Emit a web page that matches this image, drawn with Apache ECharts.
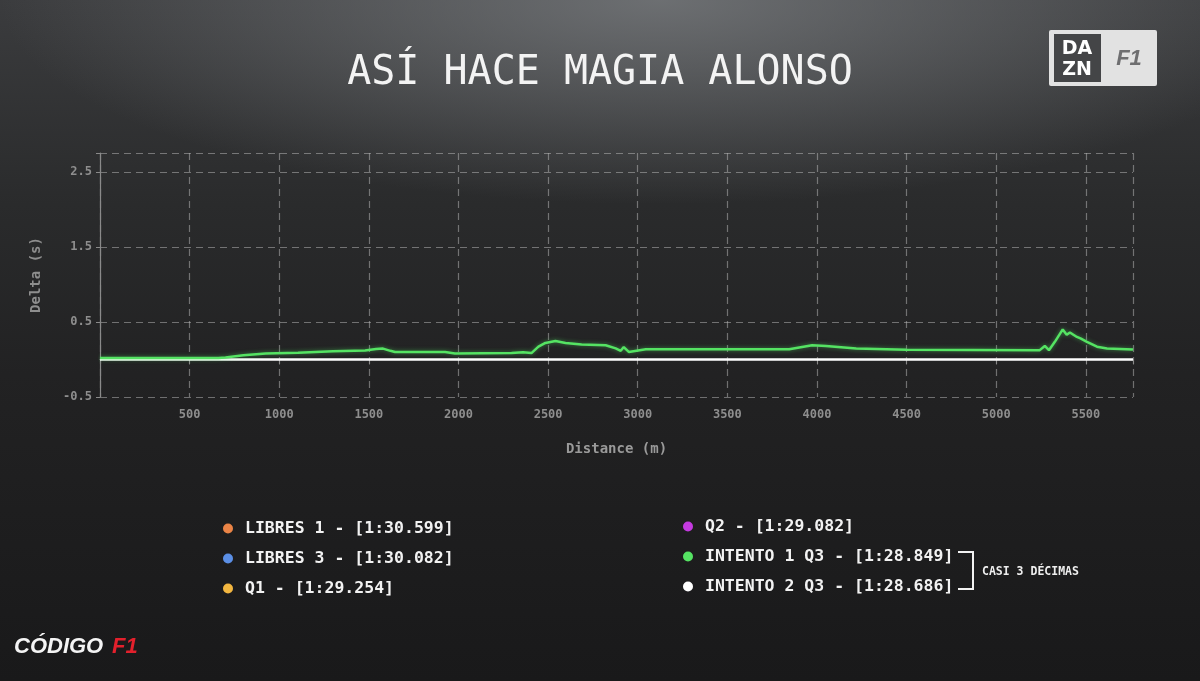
<!DOCTYPE html>
<html>
<head>
<meta charset="utf-8">
<script src="https://cdn.jsdelivr.net/npm/echarts@6/dist/echarts.min.js"></script>
<style>
html,body{margin:0;padding:0;width:1200px;height:681px;overflow:hidden;}
body{background:
 radial-gradient(ellipse 55% 30% at 55% 0%, rgba(125,128,131,0.75), rgba(125,128,131,0) 100%),
 linear-gradient(180deg,#3b3c3e 0%,#2a2b2c 30%,#222223 55%,#19191a 100%);}
#chart{width:1200px;height:681px;}
</style>
</head>
<body>
<div id="chart"></div>
<script>
// ---- data ----
const seriesNames = ['LIBRES 1', 'LIBRES 3', 'Q1', 'Q2', 'INTENTO 1 Q3', 'INTENTO 2 Q3'];
const lapTimes = ['1:30.599', '1:30.082', '1:29.254', '1:29.082', '1:28.849', '1:28.686'];
const seriesColors = ['#ea8446', '#5b8fe6', '#f2b640', '#c43ae0', '#55e363', '#ffffff'];
// distance (m), delta (s)
const libres1 = [];
const libres3 = [];
const q1 = [];
const q2 = [];
const intento1 = [[0,0.02],[300,0.02],[660,0.02],[700,0.025],[800,0.055],[925,0.08],[1105,0.09],[1300,0.11],[1479,0.12],[1540,0.14],[1579,0.145],[1620,0.115],[1646,0.1],[1925,0.1],[1980,0.08],[2296,0.085],[2360,0.095],[2407,0.085],[2446,0.17],[2485,0.22],[2541,0.245],[2597,0.22],[2687,0.2],[2821,0.19],[2877,0.147],[2905,0.115],[2922,0.165],[2950,0.1],[3045,0.137],[3621,0.137],[3845,0.135],[3973,0.19],[4050,0.18],[4219,0.147],[4499,0.13],[5243,0.124],[5271,0.18],[5294,0.124],[5327,0.235],[5371,0.4],[5393,0.33],[5411,0.36],[5450,0.3],[5470,0.28],[5506,0.235],[5562,0.17],[5618,0.147],[5763,0.133]];
const intento2 = [[0,0],[1000,0],[2000,0],[3000,0],[4000,0],[5000,0],[5763,0]];
const xMax = 5763;
const yMin = -0.5, yMax = 2.75, yInterval = 1;
const xInterval = 500;
const titleText = 'ASÍ HACE MAGIA ALONSO';
const xName = 'Distance (m)';
const yName = 'Delta (s)';
const noteText = 'CASI 3 DÉCIMAS';

const allData = [libres1, libres3, q1, q2, intento1, intento2];
const mono = '"DejaVu Sans Mono", "Liberation Mono", monospace';
const legendFmt = name => name + ' - [' + lapTimes[seriesNames.indexOf(name)] + ']';

const chart = echarts.init(document.getElementById('chart'), null, {renderer: 'canvas'});
const legendCommon = {
  orient: 'vertical', icon: 'circle', itemWidth: 10, itemHeight: 10, itemGap: 13,
  selectedMode: false, formatter: legendFmt,
  textStyle: {color: '#f2f2f2', fontFamily: mono, fontWeight: 'bold', fontSize: 16.5, padding: [0,0,0,7]}
};
chart.setOption({
  backgroundColor: 'transparent',
  animation: false,
  title: {text: titleText, left: 'center', top: 49,
    textStyle: {color: '#f3f3f3', fontFamily: mono, fontWeight: 'normal', fontSize: 40}},
  grid: {left: 100, right: 67, top: 153, bottom: 284},
  legend: [
    Object.assign({left: 218, top: 515, data: seriesNames.slice(0,3)}, legendCommon),
    Object.assign({left: 678, top: 513, data: seriesNames.slice(3)}, legendCommon)
  ],
  xAxis: {
    type: 'value', min: 0, max: xMax, interval: xInterval,
    name: xName, nameLocation: 'middle', nameGap: 45,
    nameTextStyle: {color: '#9a9a9a', fontFamily: mono, fontSize: 14, fontWeight: 'bold'},
    axisLine: {lineStyle: {color: '#8a8a8a', width: 1.2}},
    axisTick: {show: true, length: 5, lineStyle: {color: '#8a8a8a'}},
    axisLabel: {color: '#8e8e8e', fontFamily: mono, fontSize: 12, fontWeight: 'bold', margin: 12,
      formatter: v => (v === 0 || v === xMax) ? '' : String(v)},
    splitLine: {show: true, lineStyle: {color: 'rgba(190,190,190,0.5)', type: [7,5], width: 1.2}}
  },
  yAxis: {
    type: 'value', min: yMin, max: yMax, interval: yInterval,
    name: yName, nameLocation: 'middle', nameGap: 57, nameRotate: 90,
    nameTextStyle: {color: '#8e8e8e', fontFamily: mono, fontSize: 14, fontWeight: 'bold'},
    axisLine: {show: true, lineStyle: {color: '#8a8a8a', width: 1.2}},
    axisTick: {show: true, length: 4, lineStyle: {color: '#8a8a8a'}},
    axisLabel: {color: '#8e8e8e', fontFamily: mono, fontSize: 12, fontWeight: 'bold', margin: 8,
      formatter: v => (v === yMax) ? '' : v.toFixed(1)},
    splitLine: {show: true, lineStyle: {color: 'rgba(190,190,190,0.5)', type: [7,5], width: 1.2}}
  },
  series: seriesNames.map((n, i) => ({
    name: n, type: 'line', data: allData[i], showSymbol: false, smooth: false,
    color: seriesColors[i], z: i === 4 ? 4 : 3,
    lineStyle: {color: seriesColors[i], width: 2.5,
      shadowBlur: i === 4 ? 4 : 0, shadowColor: 'rgba(80,230,100,0.5)'}
  })),
  graphic: [
    {type: 'polyline', shape: {points: [[958,552],[973,552],[973,589],[958,589]]},
     style: {stroke: '#f2f2f2', lineWidth: 2, fill: null}},
    {type: 'text', left: 982, top: 566,
     style: {text: noteText, fill: '#eeeeee', font: 'bold 11.5px ' + mono}},
    // DAZN / F1 badge
    {type: 'rect', shape: {x: 1049, y: 30, width: 108, height: 56, r: 2}, style: {fill: '#e2e2e2'}},
    {type: 'rect', shape: {x: 1054, y: 34, width: 47, height: 48}, style: {fill: '#444547'}},
    {type: 'text', x: 1077, y: 49, style: {text: 'DA', fill: '#ffffff', font: 'bold 19px "DejaVu Sans", sans-serif', align: 'center', verticalAlign: 'middle'}},
    {type: 'text', x: 1077, y: 70, style: {text: 'ZN', fill: '#ffffff', font: 'bold 19px "DejaVu Sans", sans-serif', align: 'center', verticalAlign: 'middle'}},
    {type: 'text', x: 1129, y: 59, style: {text: 'F1', fill: '#6e6e70', font: 'italic bold 22px "Liberation Sans", sans-serif', align: 'center', verticalAlign: 'middle'}},
    // Código F1 logo
    {type: 'text', left: 14, top: 636, style: {text: 'CÓDIGO', fill: '#f4f4f4', font: 'italic bold 22px "Liberation Sans", sans-serif'}},
    {type: 'text', left: 112, top: 636, style: {text: 'F1', fill: '#e3202c', font: 'italic bold 22px "Liberation Sans", sans-serif'}}
  ]
});
</script>
</body>
</html>
